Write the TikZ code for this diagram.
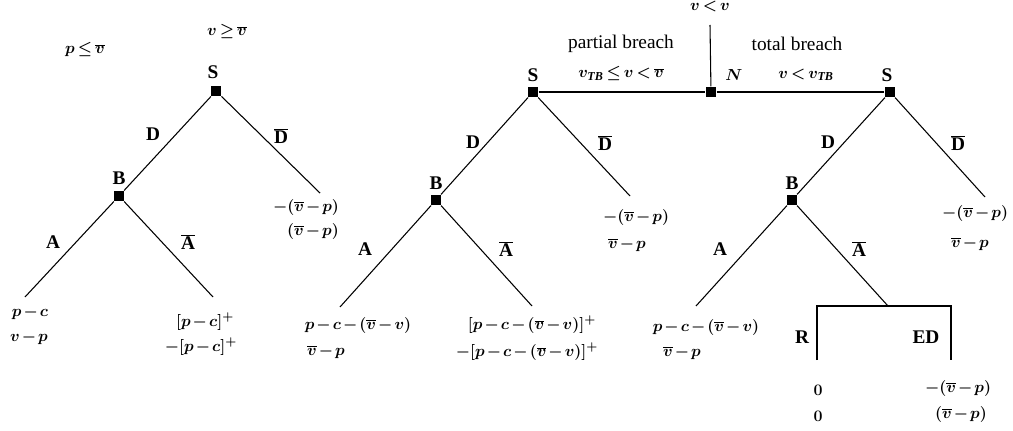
\documentclass[tikz,border=0pt]{standalone}
\usepackage{fontspec}
\setmainfont{Liberation Serif}
\newcommand\tightmath{\medmuskip=2mu\relax\thickmuskip=3mu\relax}
\begin{document}
\begin{tikzpicture}[x=0.75pt, y=-0.75pt, line width=0.8pt,
    every node/.style={font=\fontsize{13}{15}\selectfont\bfseries\boldmath\tightmath, inner sep=1pt},
    lbl/.style={font=\fontsize{14.5}{16}\selectfont\bfseries},
    txt/.style={font=\fontsize{14.5}{16}\selectfont},
    dec/.style={fill=black, inner sep=0pt, minimum size=7.5pt}]
        \useasboundingbox (0,0) rectangle (1013,431);

        % Knoten
        \node[dec] (S1) at (216,91) {};
        \node[dec] (B1) at (119,196) {};
        \node[dec] (S2) at (533,92) {};
        \node[dec] (B2) at (436,200) {};
        \node[dec] (N)  at (711,92) {};
        \node[dec] (S3) at (890,92) {};
        \node[dec] (B3) at (792,200) {};

        % Endpunkte
        \coordinate (S1r) at (320,193);
        \coordinate (B1l) at (25,297);
        \coordinate (B1r) at (213,297);
        \coordinate (S2r) at (630,196);
        \coordinate (B2l) at (340,307);
        \coordinate (B2r) at (532,306);
        \coordinate (Ntop) at (710,25);
        \coordinate (S3r) at (985,197);
        \coordinate (B3l) at (696,306);
        \coordinate (B3r) at (888,306);
        \coordinate (Rtop) at (817,306);
        \coordinate (Etop) at (951,306);
        \coordinate (R) at (817,360);
        \coordinate (E) at (951,360);

        % Kanten
        \draw (S1) -- (B1);
        \draw (S1) -- (S1r);
        \draw (B1) -- (B1l);
        \draw (B1) -- (B1r);

        \draw (S2) -- (N) -- (S3);
        \draw (N) -- (Ntop);
        \draw (S2) -- (B2);
        \draw (S2) -- (S2r);
        \draw (B2) -- (B2l);
        \draw (B2) -- (B2r);

        \draw (S3) -- (B3);
        \draw (S3) -- (S3r);
        \draw (B3) -- (B3l);
        \draw (B3) -- (B3r);
        \draw (R) -- (Rtop) -- (Etop) -- (E);

        % Beschriftung Baum 1
        \node (c1) at (85,50) {$p \le \overline{v}$};
        \node (c2) at (227,32) {$v \ge \overline{v}$};
        \node[lbl] (lS1) at (213,72) {S};
        \node[lbl] (lD1) at (153,134) {D};
        \node[lbl] (lDb1) at (281,136) {$\overline{\mbox{D}}$};
        \node[lbl] (lB1) at (119,178) {B};
        \node[lbl] (lA1) at (53,242) {A};
        \node[lbl] (lAb1) at (188,242) {$\overline{\mbox{A}}$};
        \node (p1a) at (306,207) {$-(\overline{v}-p)$};
        \node (p1b) at (313,231) {$(\overline{v}-p)$};
        \node (p2a) at (30,313) {$p-c$};
        \node (p2b) at (29,338) {$v-p$};
        \node (p3a) at (205,322) {$[p-c]^{+}$};
        \node (p3b) at (201,347) {$-[p-c]^{+}$};

        % Beschriftung Mitte
        \node (top) at (710,7) {$v<v$};
        \node[txt] (pb) at (621,44) {partial breach};
        \node (pbc) at (621,74) {$v_{\mathit{TB}} \le v < \overline{v}$};
        \node (lN) at (734,75) {$N$};
        \node[txt] (tb) at (797,44) {total breach};
        \node (tbc) at (806,75) {$v < v_{\mathit{TB}}$};

        % Beschriftung Baum 2
        \node[lbl] (lS2) at (533,75) {S};
        \node[lbl] (lD2) at (473,142) {D};
        \node[lbl] (lDb2) at (605,143) {$\overline{\mbox{D}}$};
        \node[lbl] (lB2) at (436,183) {B};
        \node[lbl] (lA2) at (365,249) {A};
        \node[lbl] (lAb2) at (506,249) {$\overline{\mbox{A}}$};
        \node (q1a) at (636,217) {$-(\overline{v}-p)$};
        \node (q1b) at (627,245) {$\overline{v}-p$};
        \node (q2a) at (358,325) {$p-c-\bigl(\overline{v}-v\bigr)$};
        \node (q2b) at (326,352) {$\overline{v}-p$};
        \node (q3a) at (532,325) {$[p-c-(\overline{v}-v)]^{+}$};
        \node (q3b) at (527,352) {$-[p-c-(\overline{v}-v)]^{+}$};

        % Beschriftung Baum 3
        \node[lbl] (lS3) at (887,75) {S};
        \node[lbl] (lD3) at (828,142) {D};
        \node[lbl] (lDb3) at (958,143) {$\overline{\mbox{D}}$};
        \node[lbl] (lB3) at (792,183) {B};
        \node[lbl] (lA3) at (720,249) {A};
        \node[lbl] (lAb3) at (859,249) {$\overline{\mbox{A}}$};
        \node (r1a) at (975,213) {$-(\overline{v}-p)$};
        \node (r1b) at (970,244) {$\overline{v}-p$};
        \node (r2a) at (706,327) {$p-c-\bigl(\overline{v}-v\bigr)$};
        \node (r2b) at (682,353) {$\overline{v}-p$};
        \node[lbl] (lR) at (802,337) {R};
        \node[lbl] (lED) at (926,337) {ED};
        \node (r3a) at (818,390) {$0$};
        \node (r3b) at (818,416) {$0$};
        \node (r4a) at (958,388) {$-(\overline{v}-p)$};
        \node (r4b) at (961,414) {$(\overline{v}-p)$};
    \end{tikzpicture}
\end{document}
